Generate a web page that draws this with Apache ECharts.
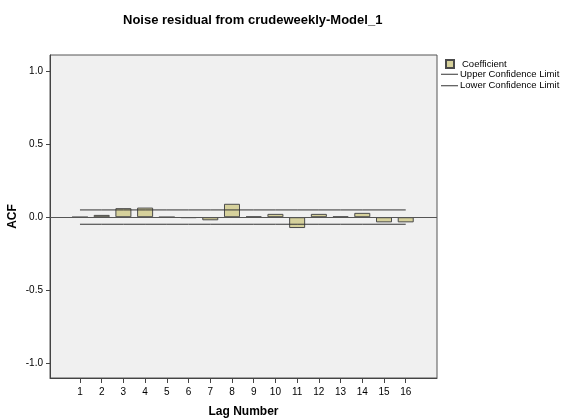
<!DOCTYPE html>
<html>
<head>
<meta charset="utf-8">
<script src="https://cdn.jsdelivr.net/npm/echarts@6/dist/echarts.min.js"></script>
<style>
  html, body { margin: 0; padding: 0; background: #fff; }
  #chart { width: 573px; height: 420px; }
</style>
</head>
<body>
<div id="chart"></div>
<script>
// lag numbers and ACF of the noise residual
var lags = [1, 2, 3, 4, 5, 6, 7, 8, 9, 10, 11, 12, 13, 14, 15, 16];
var acf = [0.001, 0.016, 0.062, 0.066, 0.001, -0.005, -0.021, 0.092, 0.005, 0.023, -0.074, 0.023, 0.005, 0.03, -0.035, -0.035];
var upperLimit = [0.05, 0.05, 0.05, 0.05, 0.05, 0.05, 0.05, 0.05, 0.05, 0.05, 0.05, 0.05, 0.05, 0.05, 0.05, 0.05];
var lowerLimit = [-0.048, -0.048, -0.048, -0.048, -0.048, -0.048, -0.048, -0.048, -0.048, -0.048, -0.048, -0.048, -0.048, -0.048, -0.048, -0.048];
var yTicks = [-1.0, -0.5, 0.0, 0.5, 1.0];

function pairs(xs, ys) {
  var out = [];
  for (var i = 0; i < xs.length; i++) {
    out.push([xs[i], ys[i]]);
  }
  return out;
}

var font = 'Liberation Sans, Arial, sans-serif';
var myChart = echarts.init(document.getElementById('chart'));
myChart.setOption({
  animation: false,
  backgroundColor: '#fff',
  textStyle: { fontFamily: font },
  title: {
    text: 'Noise residual from crudeweekly-Model_1',
    left: 118,
    top: 9,
    textStyle: { fontSize: 13, fontWeight: 'bold', color: '#000', fontFamily: font }
  },
  legend: [{
    data: ['Coefficient'],
    orient: 'vertical',
    left: 445,
    top: 59,
    padding: 0,
    itemWidth: 8,
    itemHeight: 8,
    itemGap: 0,
    icon: 'rect',
    textStyle: { fontSize: 9.5, color: '#000', padding: [0, 0, 0, 3] }
  }, {
    data: ['Upper Confidence Limit', 'Lower Confidence Limit'],
    orient: 'vertical',
    left: 441,
    top: 68.5,
    padding: 0,
    itemWidth: 17,
    itemHeight: 1,
    itemGap: 0,
    icon: 'rect',
    textStyle: { fontSize: 9.5, color: '#000', lineHeight: 11.5, padding: [0, 0, 0, -3] }
  }],
  grid: {
    left: 50,
    right: 136,
    top: 55,
    bottom: 42,
    outerBoundsMode: 'none',
    show: true,
    backgroundColor: '#f0f0f0',
    borderColor: '#555',
    borderWidth: 1
  },
  xAxis: {
    type: 'value',
    min: -0.38,
    max: 17.44,
    name: 'Lag Number',
    nameLocation: 'middle',
    nameGap: 28,
    nameTextStyle: { fontSize: 12, fontWeight: 'bold', color: '#000' },
    splitLine: { show: false },
    axisLine: { onZero: false, lineStyle: { color: '#444' } },
    axisTick: { customValues: lags, length: 5, lineStyle: { color: '#444' } },
    axisLabel: { customValues: lags, margin: 9, fontSize: 10, color: '#000' }
  },
  yAxis: {
    type: 'value',
    min: -1.10,
    max: 1.11,
    name: 'ACF',
    nameLocation: 'middle',
    nameGap: 31,
    nameRotate: 90,
    nameMoveOverlap: false,
    nameTextStyle: { fontSize: 12, fontWeight: 'bold', color: '#000' },
    splitLine: { show: false },
    axisLine: { show: true, onZero: false, lineStyle: { color: '#444' } },
    axisTick: { show: true, customValues: yTicks, length: 4, lineStyle: { color: '#444' } },
    axisLabel: {
      customValues: yTicks,
      margin: 7,
      fontSize: 10,
      color: '#000',
      formatter: function (v) { return v.toFixed(1); }
    }
  },
  series: [{
    name: 'Coefficient',
    type: 'bar',
    barWidth: 16,
    data: pairs(lags, acf),
    itemStyle: { color: '#d6d19c', borderColor: '#4a4a4a', borderWidth: 1 },
    markLine: {
      silent: true,
      symbol: 'none',
      label: { show: false },
      lineStyle: { color: '#555', width: 1, type: 'solid' },
      data: [{ yAxis: 0 }]
    }
  }, {
    name: 'Upper Confidence Limit',
    type: 'line',
    data: pairs(lags, upperLimit),
    symbol: 'none',
    lineStyle: { color: '#333', width: 1 },
    itemStyle: { color: '#333' }
  }, {
    name: 'Lower Confidence Limit',
    type: 'line',
    data: pairs(lags, lowerLimit),
    symbol: 'none',
    lineStyle: { color: '#333', width: 1 },
    itemStyle: { color: '#333' }
  }]
});
</script>
</body>
</html>
